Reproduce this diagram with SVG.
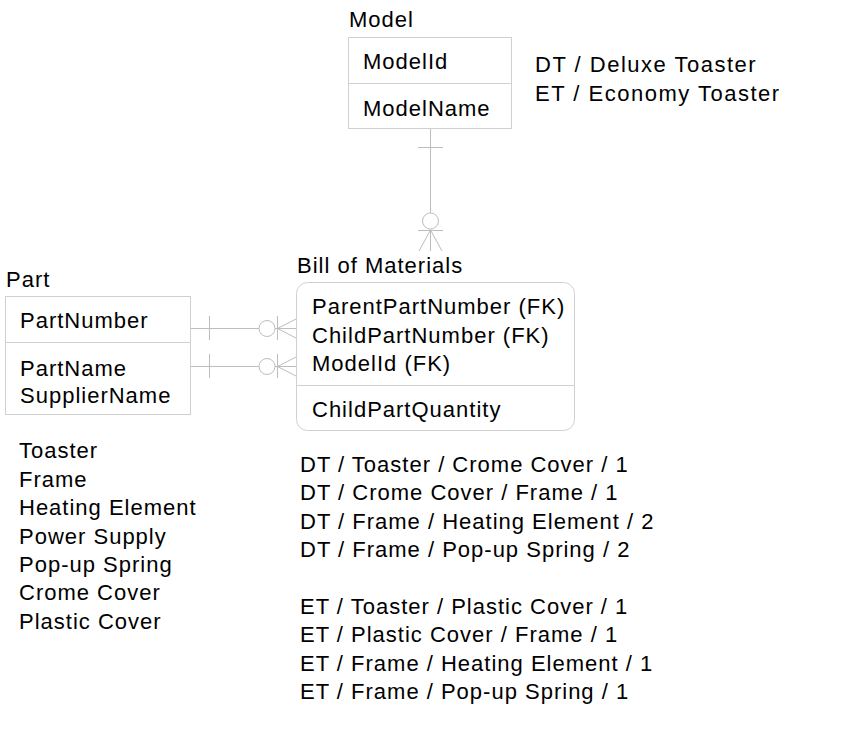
<svg xmlns="http://www.w3.org/2000/svg" width="865" height="750" viewBox="0 0 865 750">
<style>
text{font-family:"Liberation Sans",Arial,sans-serif;font-size:22px;fill:#000;letter-spacing:1px}
.note{letter-spacing:1.5px}
.box{fill:#fff;stroke:#d0d0d0;stroke-width:1}
.ln{stroke:#bdbdbd;stroke-width:1;fill:none}
</style>
<rect width="865" height="750" fill="#fff"/>
<g id="model">
<text x="349" y="27">Model</text>
<rect class="box" x="348.5" y="37.5" width="163" height="91"/>
<line class="box" x1="348.5" y1="83.5" x2="511.5" y2="83.5"/>
<text x="363" y="69">ModelId</text>
<text x="363" y="116">ModelName</text>
</g>
<g id="model-note">
<text class="note" x="535" y="72">DT / Deluxe Toaster</text>
<text class="note" x="535" y="101">ET / Economy Toaster</text>
</g>
<g id="part">
<text x="6" y="287">Part</text>
<rect class="box" x="5.5" y="296.5" width="185" height="118"/>
<line class="box" x1="5.5" y1="342.5" x2="190.5" y2="342.5"/>
<text x="20" y="328">PartNumber</text>
<text x="20" y="376">PartName</text>
<text x="20" y="403">SupplierName</text>
</g>
<g id="part-list">
<text x="19" y="458">Toaster</text>
<text x="19" y="487">Frame</text>
<text x="19" y="515">Heating Element</text>
<text x="19" y="544">Power Supply</text>
<text x="19" y="572">Pop-up Spring</text>
<text x="19" y="600">Crome Cover</text>
<text x="19" y="629">Plastic Cover</text>
</g>
<g id="bom">
<text x="297" y="273">Bill of Materials</text>
<rect class="box" x="296.5" y="282.5" width="278" height="148" rx="11"/>
<line class="box" x1="296.5" y1="385.5" x2="574.5" y2="385.5"/>
<text x="312" y="314">ParentPartNumber (FK)</text>
<text x="312" y="343">ChildPartNumber (FK)</text>
<text x="312" y="371">ModelId (FK)</text>
<text x="312" y="417">ChildPartQuantity</text>
</g>
<g id="bom-list">
<text x="300" y="472">DT / Toaster / Crome Cover / 1</text>
<text x="300" y="500">DT / Crome Cover / Frame / 1</text>
<text x="300" y="529">DT / Frame / Heating Element / 2</text>
<text x="300" y="557">DT / Frame / Pop-up Spring / 2</text>
<text x="300" y="614">ET / Toaster / Plastic Cover / 1</text>
<text x="300" y="642">ET / Plastic Cover / Frame / 1</text>
<text x="300" y="671">ET / Frame / Heating Element / 1</text>
<text x="300" y="699">ET / Frame / Pop-up Spring / 1</text>
</g>
<g id="connectors">
<g id="model-bom">
<line class="ln" x1="430.5" y1="129" x2="430.5" y2="213"/>
<line class="ln" x1="418" y1="147.5" x2="443" y2="147.5"/>
<circle class="ln" cx="430.5" cy="221" r="8"/>
<line class="ln" x1="418" y1="230.5" x2="443" y2="230.5"/>
<line class="ln" x1="430.5" y1="229" x2="430.5" y2="251"/>
<line class="ln" x1="430.5" y1="230" x2="419" y2="251"/>
<line class="ln" x1="430.5" y1="230" x2="442" y2="251"/>
</g>
<g id="part-bom-1">
<line class="ln" x1="191" y1="328.5" x2="259" y2="328.5"/>
<line class="ln" x1="209.5" y1="316" x2="209.5" y2="340"/>
<circle class="ln" cx="267" cy="328.5" r="8"/>
<line class="ln" x1="275" y1="328.5" x2="296" y2="328.5"/>
<line class="ln" x1="277.5" y1="316" x2="277.5" y2="340"/>
<line class="ln" x1="277.5" y1="328.5" x2="296" y2="319"/>
<line class="ln" x1="277.5" y1="328.5" x2="296" y2="338"/>
</g>
<g id="part-bom-2">
<line class="ln" x1="191" y1="366.5" x2="259" y2="366.5"/>
<line class="ln" x1="209.5" y1="354" x2="209.5" y2="378"/>
<circle class="ln" cx="267" cy="366.5" r="8"/>
<line class="ln" x1="275" y1="366.5" x2="296" y2="366.5"/>
<line class="ln" x1="277.5" y1="354" x2="277.5" y2="378"/>
<line class="ln" x1="277.5" y1="366.5" x2="296" y2="357"/>
<line class="ln" x1="277.5" y1="366.5" x2="296" y2="376"/>
</g>
</g>
</svg>
